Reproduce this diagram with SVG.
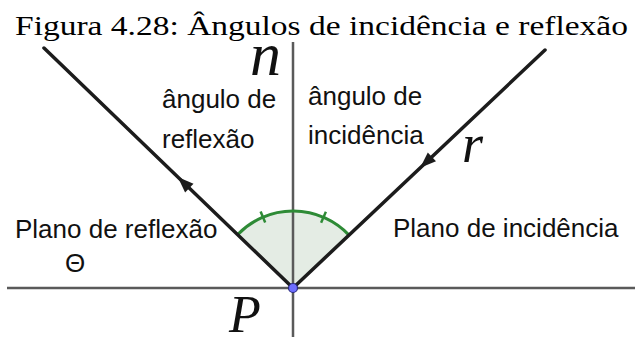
<svg xmlns="http://www.w3.org/2000/svg" width="635" height="337" viewBox="0 0 635 337">
<style>
.axis{stroke:#5a5a5a;stroke-width:2.5;fill:none}
.ray{stroke:#1c1c1c;stroke-width:3.5;fill:none;stroke-linecap:round}
.head{fill:#1c1c1c}
.lbl{font-family:"Liberation Sans",Arial,sans-serif;font-size:26px;fill:#111}
.math{font-family:"Liberation Serif","Times New Roman",serif;font-style:italic;fill:#111}
.title{font-family:"Liberation Serif","Times New Roman",serif;font-size:28px;fill:#000}
</style>
<rect width="635" height="337" fill="#fff"/>
<text class="title" x="15" y="35" textLength="613" lengthAdjust="spacingAndGlyphs">Figura 4.28: Ângulos de incidência e reflexão</text>
<g id="connectors">
<path d="M293,288 L349,235.1 A77,77 0 0 0 237.6,234.6 Z" fill="#e4ece4" stroke="none"/>
<line class="axis" x1="7" y1="288" x2="635" y2="288"/>
<line class="axis" x1="293" y1="42" x2="293" y2="337"/>
<path d="M349,235.1 A77,77 0 0 0 237.6,234.6" stroke="#2e8b36" stroke-width="3" fill="none"/>
<line x1="321.1" y1="222.8" x2="325.9" y2="211.8" stroke="#2e8b36" stroke-width="2.5"/>
<line x1="265.2" y1="222.6" x2="260.6" y2="211.6" stroke="#2e8b36" stroke-width="2.5"/>
<line class="ray" x1="293" y1="288" x2="44" y2="48"/>
<line class="ray" x1="293" y1="288" x2="545" y2="50"/>
<polygon class="head" points="177.8,177 193.5,183.8 185.1,192.4"/>
<polygon class="head" points="420.2,167.8 436,161.2 427.8,152.4"/>
</g>
<g id="P">
<circle cx="293" cy="288" r="4.5" fill="#6e6eff" stroke="#2a2a80" stroke-width="1.2"/>
<text class="math" x="229" y="332" font-size="52">P</text>
</g>
<g id="n"><text class="math" x="250" y="75" font-size="62">n</text></g>
<g id="r"><text class="math" x="462" y="162" font-size="54">r</text></g>
<g id="angulo-reflexao">
<text class="lbl" x="162" y="108">ângulo de</text>
<text class="lbl" x="162" y="148">reflexão</text>
</g>
<g id="angulo-incidencia">
<text class="lbl" x="308" y="105">ângulo de</text>
<text class="lbl" x="308" y="144">incidência</text>
</g>
<g id="plano-reflexao">
<text class="lbl" x="15" y="238">Plano de reflexão</text>
<text class="lbl" x="65" y="272" font-size="27">Θ</text>
</g>
<g id="plano-incidencia"><text class="lbl" x="393" y="237">Plano de incidência</text></g>
</svg>
